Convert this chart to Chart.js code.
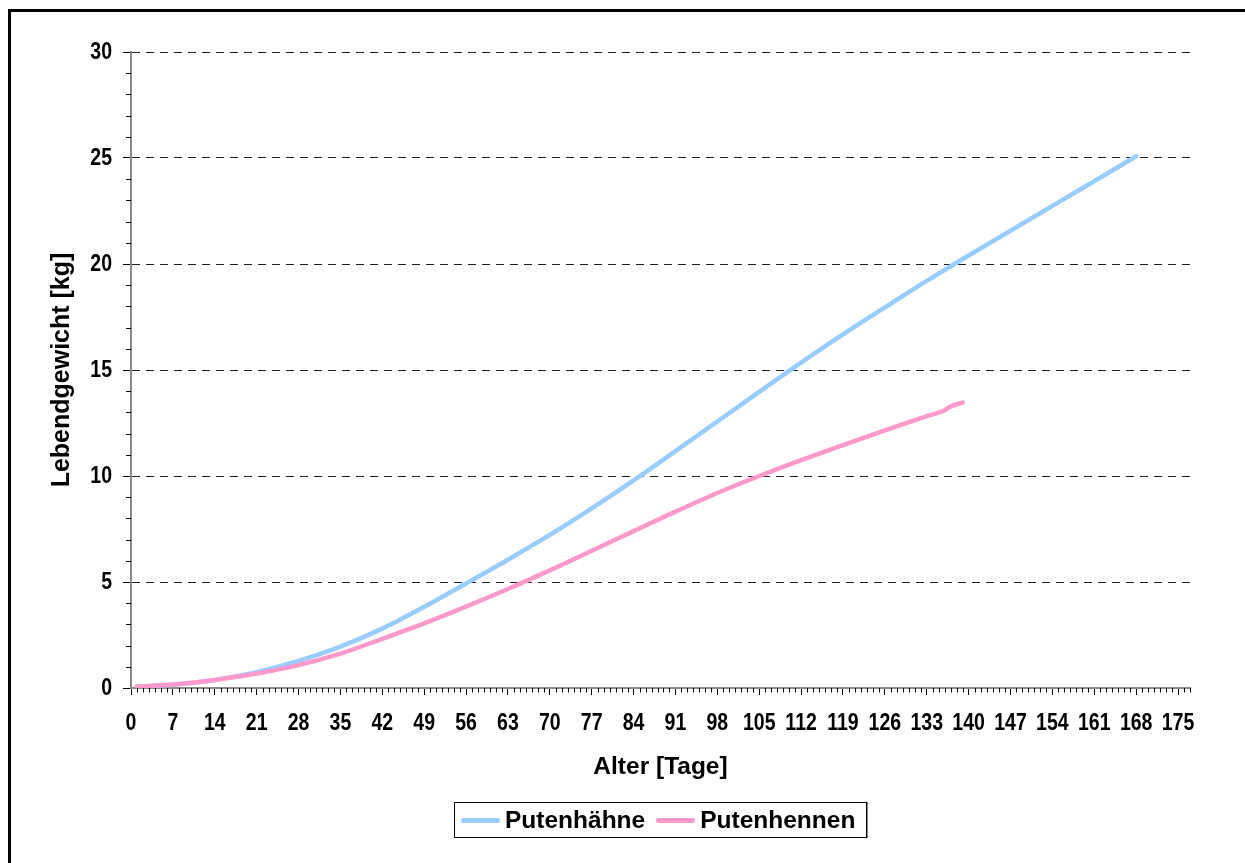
<!DOCTYPE html>
<html lang="de">
<head>
<meta charset="utf-8">
<title>Wachstumskurven Puten</title>
<script src="https://cdn.jsdelivr.net/npm/chart.js@4.4.1/dist/chart.umd.min.js"></script>
<style>
  html, body { margin: 0; padding: 0; background: #fff; overflow: hidden; }
  #wrap { position: relative; width: 1245px; height: 863px; }
  #frame {
    position: absolute; left: 8px; top: 9px; width: 1260px; height: 880px;
    border-left: 3px solid #000; border-top: 3px solid #000; pointer-events: none;
  }
  #legend {
    position: absolute; left: 454px; top: 802px; width: 405px; height: 34px;
    border: 1px solid #000; box-shadow: 1px 0 0 #888;
    display: flex; align-items: center; padding-left: 6px; box-sizing: content-box;
    font-family: "Liberation Sans", Arial, sans-serif; font-weight: bold; font-size: 24.5px;
    color: #000; background: #fff;
  }
  #legend .item { display: flex; align-items: center; margin-right: 11px; }
  #legend .swatch { width: 39px; height: 5px; border-radius: 3px; margin-right: 5px; }
</style>
</head>
<body>
<div id="wrap">
  <canvas id="chart" width="1245" height="863"></canvas>
  <div id="frame"></div>
  <div id="legend"></div>
</div>
<script>
// Alter in Tagen und Lebendgewicht in kg
const haehneTage = [1, 7, 14, 21, 28, 35, 42, 49, 56, 63, 70, 77, 84, 91, 98, 105, 112, 119, 126, 133, 140, 147, 154, 161, 168];
const haehneKg   = [0.06, 0.15, 0.38, 0.75, 1.28, 1.95, 2.8, 3.83, 4.93, 6.05, 7.22, 8.47, 9.79, 11.17, 12.57, 13.97, 15.35, 16.68, 17.95, 19.2, 20.4, 21.57, 22.74, 23.91, 25.08];

const hennenTage = [1, 7, 14, 21, 28, 35, 42, 49, 56, 63, 70, 77, 84, 91, 98, 105, 112, 119, 126, 133, 136, 137, 139];
const hennenKg   = [0.07, 0.16, 0.38, 0.68, 1.08, 1.62, 2.32, 3.05, 3.84, 4.67, 5.55, 6.47, 7.4, 8.32, 9.2, 10.0, 10.75, 11.46, 12.15, 12.82, 13.1, 13.28, 13.46];

const serienNamen = ['Putenhähne', 'Putenhennen'];
const serienFarben = ['#99CCFF', '#FF99CC'];

// Achsenbereiche und Beschriftungsschritte
const X_MAX = 177;
const X_STEP = 7;
const Y_MAX = 30;
const Y_STEP = 5;

const toPoints = (xs, ys) => xs.map((x, i) => ({ x, y: ys[i] }));

const titleFont = { family: '"Liberation Sans", Arial, sans-serif', size: 24.5, weight: 'bold' };
const TICK_FONT = 'bold 23.5px "Liberation Sans", Arial, sans-serif';
const TICK_CONDENSE = 0.83;

// Schmale Achsenbeschriftung und kleine Zwischenstriche (jeder Tag, jedes kg)
const axisDecor = {
  id: 'axisDecor',
  afterDraw(chart) {
    const { ctx, scales: { x, y } } = chart;
    ctx.save();
    ctx.strokeStyle = '#000';
    ctx.lineWidth = 1;
    ctx.setLineDash([]);
    ctx.beginPath();
    for (let d = 0; d <= X_MAX; d++) {
      if (d % X_STEP === 0) continue;
      const px = Math.round(x.getPixelForValue(d)) + 0.5;
      ctx.moveTo(px, y.bottom);
      ctx.lineTo(px, y.bottom + 4.5);
    }
    for (let k = 0; k <= Y_MAX; k++) {
      if (k % Y_STEP === 0) continue;
      const py = Math.round(y.getPixelForValue(k)) + 0.5;
      ctx.moveTo(x.left - 5, py);
      ctx.lineTo(x.left, py);
    }
    ctx.stroke();

    ctx.fillStyle = '#000';
    ctx.font = TICK_FONT;
    ctx.textBaseline = 'middle';
    ctx.textAlign = 'center';
    x.ticks.forEach(t => {
      ctx.save();
      ctx.translate(x.getPixelForValue(t.value), y.bottom + 36);
      ctx.scale(TICK_CONDENSE, 1);
      ctx.fillText(String(t.value), 0, 0);
      ctx.restore();
    });
    ctx.textAlign = 'right';
    y.ticks.forEach(t => {
      ctx.save();
      ctx.translate(x.left - 19, y.getPixelForValue(t.value) + 1);
      ctx.scale(TICK_CONDENSE, 1);
      ctx.fillText(String(t.value), 0, 0);
      ctx.restore();
    });
    ctx.restore();
  }
};

const chart = new Chart(document.getElementById('chart'), {
  type: 'line',
  data: {
    datasets: [
      {
        label: serienNamen[0],
        data: toPoints(haehneTage, haehneKg),
        borderColor: serienFarben[0],
        backgroundColor: serienFarben[0],
        order: 2
      },
      {
        label: serienNamen[1],
        data: toPoints(hennenTage, hennenKg),
        borderColor: serienFarben[1],
        backgroundColor: serienFarben[1],
        order: 1
      }
    ]
  },
  options: {
    responsive: false,
    animation: false,
    devicePixelRatio: 1,
    layout: { padding: { left: 40, right: 55, top: 52, bottom: 81 } },
    elements: {
      point: { radius: 0, hoverRadius: 0 },
      line: { borderWidth: 4.5, borderCapStyle: 'round', borderJoinStyle: 'round', cubicInterpolationMode: 'monotone' }
    },
    plugins: {
      legend: { display: false },
      tooltip: { enabled: false }
    },
    scales: {
      x: {
        type: 'linear',
        min: 0,
        max: X_MAX,
        afterFit(scale) { scale.height = 94; },
        ticks: {
          stepSize: X_STEP,
          includeBounds: false,
          autoSkip: false,
          maxRotation: 0,
          display: false
        },
        grid: {
          drawOnChartArea: false,
          drawTicks: true,
          tickLength: 7,
          tickColor: '#000',
          tickWidth: 1
        },
        border: { display: true, color: '#8a8a8a', width: 2 },
        title: {
          display: true,
          text: 'Alter [Tage]',
          color: '#000',
          font: titleFont,
          padding: { top: 0, bottom: 0 }
        }
      },
      y: {
        min: 0,
        max: Y_MAX,
        afterFit(scale) { scale.width = 91; },
        ticks: {
          stepSize: Y_STEP,
          display: false
        },
        grid: {
          color: '#222',
          lineWidth: 1,
          drawTicks: true,
          tickLength: 8,
          tickColor: '#000',
          tickWidth: 1,
          tickBorderDash: [0, 0]
        },
        border: { display: true, color: '#8a8a8a', width: 2, dash: [8, 6] },
        title: {
          display: true,
          text: 'Lebendgewicht [kg]',
          color: '#000',
          font: { family: '"Liberation Sans", Arial, sans-serif', size: 25, weight: 'bold' },
          padding: { top: 7, bottom: 0 }
        }
      }
    }
  },
  plugins: [axisDecor]
});

// Legende aus den Datensätzen aufbauen
const legendEl = document.getElementById('legend');
chart.data.datasets.forEach(ds => {
  const item = document.createElement('div');
  item.className = 'item';
  const sw = document.createElement('span');
  sw.className = 'swatch';
  sw.style.background = ds.borderColor;
  const txt = document.createElement('span');
  txt.textContent = ds.label;
  item.appendChild(sw);
  item.appendChild(txt);
  legendEl.appendChild(item);
});
</script>
</body>
</html>
